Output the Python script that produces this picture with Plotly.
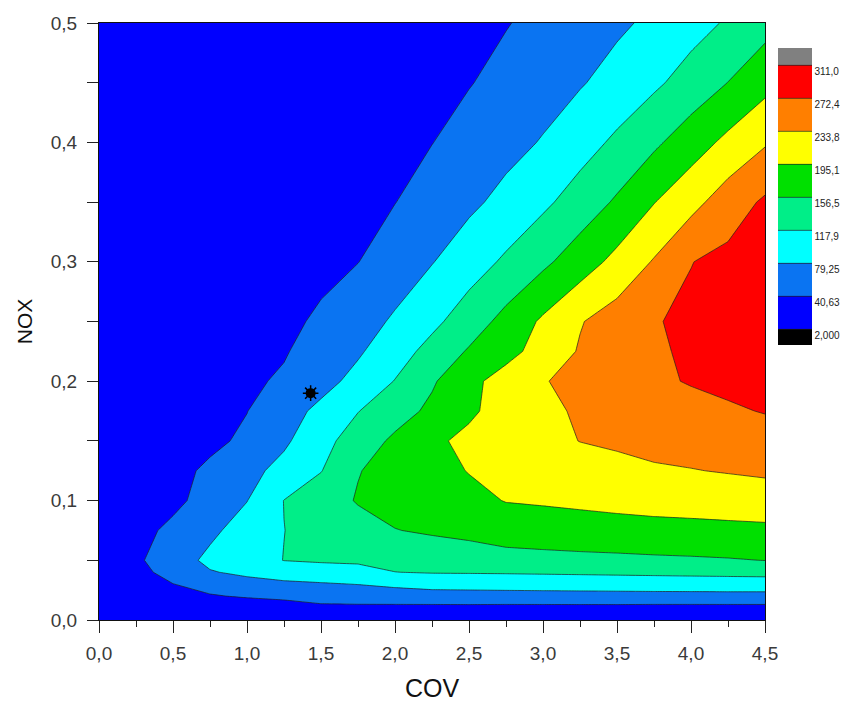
import plotly.graph_objects as go

# ---- data ----
cov = [0, 0.25, 0.5, 0.75, 1.0, 1.25, 1.5, 1.75, 2.0, 2.25, 2.5, 2.75, 3.0, 3.25, 3.5, 3.75, 4.0, 4.25, 4.5]
nox = [0, 0.01, 0.02, 0.03, 0.04, 0.05, 0.075, 0.1, 0.125, 0.15, 0.175, 0.2, 0.225, 0.25, 0.3, 0.35, 0.4, 0.45, 0.5]

o3_000 = [2, 3, 4, 5, 7, 9, 11, 12, 12, 12, 12, 12, 12, 12, 12, 12, 12, 12, 12]
o3_010 = [3, 5, 9, 14, 20, 25, 33, 33, 32, 31, 31, 30, 30, 30, 30, 29, 29, 29, 29]
o3_020 = [5, 15, 28, 38, 44, 48, 54, 57, 60, 63, 64, 65, 65.5, 66, 66.5, 67, 67, 67.5, 67.5]
o3_030 = [6, 22, 40, 53, 68, 72, 76, 80, 87, 93, 93.6, 94.6, 95.7, 96.5, 97.4, 98.4, 99.3, 99.8, 100]
o3_040 = [7, 28, 55, 77, 86, 97, 101, 106.5, 117.5, 120, 120.5, 121.2, 122.2, 123.3, 124.4, 125.5, 126.6, 127.8, 129]
o3_050 = [8, 34, 63, 87, 103, 118.5, 122, 123, 127, 134, 138, 143, 145, 147, 148.5, 150.5, 152, 154, 157]
o3_075 = [9, 30, 48, 72, 94.5, 117.5, 130, 143, 155.5, 161, 166, 174, 177, 179.5, 181.5, 183.5, 185, 186.5, 187.6]
o3_100 = [9, 22, 33, 53, 78.5, 118.5, 140, 159, 169, 178, 185, 196.5, 199, 202, 205.5, 208.5, 210, 212.3, 215.5]
o3_125 = [9, 20, 30, 47, 68, 91, 116.5, 155, 169, 183, 196.5, 203, 207, 217, 225, 230, 232.4, 236, 239.6]
o3_150 = [8, 16, 24, 33, 47, 73, 105.4, 136, 163.6, 189, 202.8, 213, 223, 234.4, 238.4, 243.3, 248, 253, 257.8]
o3_175 = [8, 15, 22, 30, 40, 63.6, 88.3, 116.8, 140.5, 164.5, 189.6, 208.7, 226, 238, 245.6, 253.1, 260.6, 268.2, 274]
o3_200 = [7, 14, 20, 27, 35, 45, 66.4, 90.6, 119.2, 151.9, 185.6, 209.9, 231.8, 243.5, 255, 266.4, 274.8, 279.9, 285]
o3_225 = [7, 13, 19, 25, 32, 38, 55.3, 74.6, 101, 130.4, 160.2, 183.2, 209.6, 236.9, 252.5, 268, 277.3, 284.2, 291]
o3_250 = [6, 12, 17, 23, 29, 35, 44.5, 63.8, 84.2, 108.9, 137.2, 168.5, 201.1, 231.4, 251.2, 270.1, 279.3, 287.2, 295]
o3_300 = [5, 10, 14, 19, 24, 29, 34, 40, 58.8, 77.7, 100.4, 123.8, 148.6, 176.4, 206, 236.7, 271.5, 282.2, 292]
o3_350 = [5, 9, 13, 17, 22, 26, 30, 35, 40, 55.8, 71.6, 89.9, 110.5, 134.6, 161.6, 193.8, 221.6, 253.1, 278]
o3_400 = [4, 8, 11, 15, 19, 23, 27, 31, 35, 40, 53.7, 67.3, 81.8, 102.7, 124.8, 149.6, 176.9, 204.3, 230]
o3_450 = [4, 7, 10, 13, 16, 20, 23, 27, 30, 34, 39, 50.8, 63.5, 76.2, 93.1, 111.3, 133, 157, 183]
o3_500 = [3, 6, 9, 12, 15, 19, 22, 25, 28, 31, 35, 39, 49.8, 61.3, 72.8, 86.8, 104.1, 122, 143]

z_rows = [o3_000, o3_010, o3_020, o3_030, o3_040, o3_050, o3_075, o3_100, o3_125,
          o3_150, o3_175, o3_200, o3_225, o3_250, o3_300, o3_350, o3_400, o3_450, o3_500]

level_start = 2.0
level_end = 311.0
level_step = 38.625
level_values = [2.0, 40.625, 79.25, 117.875, 156.5, 195.125, 233.75, 272.375, 311.0]
level_labels = ["2,000", "40,63", "79,25", "117,9", "156,5", "195,1", "233,8", "272,4", "311,0"]

point_cov = [1.43]
point_nox = [0.19]

# ---- style ----
band_colors = ["#000000", "#0000FF", "#0A74F2", "#00FFFF", "#00EE88",
               "#00E000", "#FFFF00", "#FF7F00", "#FF0000", "#808080"]
n = len(band_colors)
colorscale = []
for k, c in enumerate(band_colors):
    lo = 0.0 if k == 0 else (k - 0.5) / (n - 1)
    hi = 1.0 if k == n - 1 else (k + 0.5) / (n - 1)
    colorscale.append([lo, c])
    colorscale.append([hi, c])

fig = go.Figure()
fig.add_trace(go.Contour(
    x=cov, y=nox, z=z_rows,
    autocontour=False,
    contours=dict(start=level_start, end=level_end, size=level_step,
                  coloring="fill", showlines=True),
    line=dict(color="#202020", width=0.7, smoothing=0),
    colorscale=colorscale,
    showscale=True,
    colorbar=dict(
        x=1.0195, xanchor="left", xpad=0,
        y=0.4606, yanchor="bottom", ypad=0,
        len=0.4975, lenmode="fraction",
        thickness=34, thicknessmode="pixels",
        outlinewidth=0,
        tickmode="array", tickvals=level_values, ticktext=level_labels,
        ticks="", ticklabelposition="outside bottom",
        tickfont=dict(family="Liberation Sans Narrow, Arial", size=10, color="#222"),
    ),
    hoverinfo="skip",
))
fig.add_trace(go.Scatter(
    x=point_cov, y=point_nox, mode="markers",
    marker=dict(symbol="circle", size=10, color="black"),
    showlegend=False, hoverinfo="skip"))
fig.add_trace(go.Scatter(
    x=point_cov, y=point_nox, mode="markers",
    marker=dict(symbol="asterisk-open", size=13, color="black", line=dict(color="black", width=1.5)),
    showlegend=False, hoverinfo="skip"))

axis_font = dict(family="Liberation Sans, Arial", size=19, color="#3a3a3a")
fig.update_layout(
    width=842, height=695,
    margin=dict(l=91, r=85, t=15, b=83, autoexpand=False),
    paper_bgcolor="white", plot_bgcolor="white",
    separators=",.",
    showlegend=False,
    xaxis=dict(
        range=[0, 4.5], tickmode="linear", tick0=0, dtick=0.5, tickformat=".1f",
        ticks="outside", ticklen=12, tickcolor="#222", ticklabelstandoff=4,
        minor=dict(tick0=0, dtick=0.25, ticks="outside", ticklen=6, tickcolor="#222"),
        showgrid=False, zeroline=False, showline=True, linecolor="#111", linewidth=1, mirror=True,
        tickfont=axis_font,
        title=dict(text="COV", font=dict(family="Liberation Sans, Arial", size=25, color="#111"), standoff=16),
    ),
    yaxis=dict(
        range=[0, 0.5], tickmode="linear", tick0=0, dtick=0.1, tickformat=".1f",
        ticks="outside", ticklen=11, tickcolor="#222", ticklabelstandoff=6,
        minor=dict(tick0=0, dtick=0.05, ticks="outside", ticklen=11, tickcolor="#222"),
        showgrid=False, zeroline=False, showline=True, linecolor="#111", linewidth=1, mirror=True,
        tickfont=axis_font,
        title=dict(text="NOX", font=dict(family="Liberation Sans, Arial", size=21, color="#111"), standoff=12),
    ),
)

fig.write_html("out.html")
